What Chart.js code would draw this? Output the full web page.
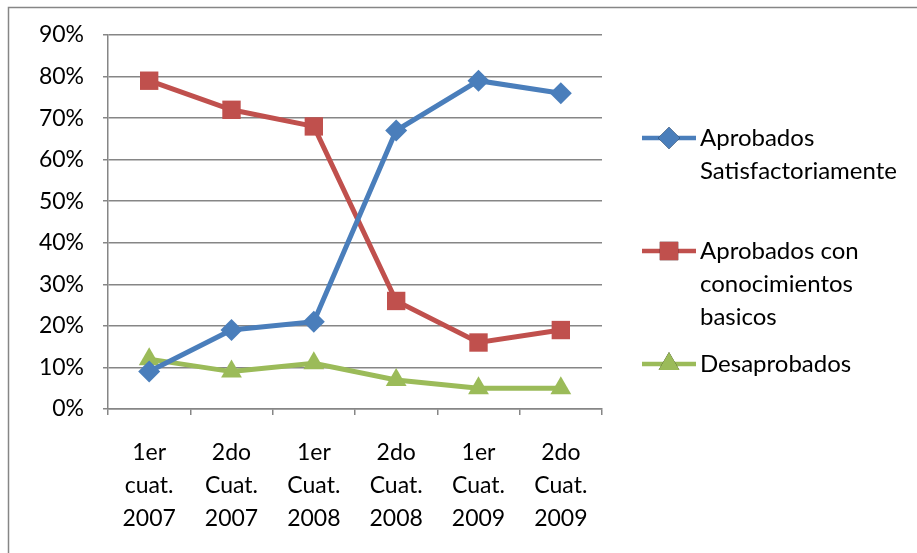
<!DOCTYPE html>
<html>
<head>
<meta charset="utf-8">
<script src="https://cdn.jsdelivr.net/npm/chart.js@4/dist/chart.umd.min.js"></script>
<style>
  html, body { margin: 0; padding: 0; background: #fff; }
  #wrap { width: 917px; height: 553px; }
</style>
</head>
<body>
<div id="wrap"><canvas id="chart1" width="917" height="553"></canvas></div>
<script>
const categories = [
    ["1er", "cuat.", "2007"],
    ["2do", "Cuat.", "2007"],
    ["1er", "Cuat.", "2008"],
    ["2do", "Cuat.", "2008"],
    ["1er", "Cuat.", "2009"],
    ["2do", "Cuat.", "2009"]
];
const seriesNames = [
    ["Aprobados", "Satisfactoriamente"],
    ["Aprobados con", "conocimientos", "basicos"],
    ["Desaprobados"]
];
const satisfactorios = [9, 19, 21, 67, 79, 76];
const basicos = [79, 72, 68, 26, 16, 19];
const desaprobados = [12, 9, 11, 7, 5, 5];
const yTicks = [0, 10, 20, 30, 40, 50, 60, 70, 80, 90];

const FONT = "Lato, 'Open Sans', sans-serif";

// legend at the right, with wrapped names like in the original
const sideLegend = {
    id: "sideLegend",
    afterDraw(chart) {
        const ctx = chart.ctx;
        const rows = [138, 251, 364];
        ctx.save();
        ctx.font = "24px " + FONT;
        ctx.textBaseline = "middle";
        ctx.fillStyle = "#000";
        chart.data.datasets.forEach((ds, i) => {
            const y = rows[i];
            ctx.strokeStyle = ds.borderColor;
            ctx.lineWidth = 4.5;
            ctx.beginPath();
            ctx.moveTo(642, y);
            ctx.lineTo(696, y);
            ctx.stroke();
            Chart.helpers.drawPoint(ctx, {
                pointStyle: ds.pointStyle,
                radius: ds.pointRadius,
                rotation: ds.pointRotation || 0,
                borderWidth: 0
            }, 669, y);
            ctx.fillStyle = ds.borderColor;
            ctx.fill();
            ctx.fillStyle = "#000";
            ds.label.forEach((line, k) => {
                ctx.fillText(line, 700, y + k * 33);
            });
        });
        // outer frame
        ctx.strokeStyle = "#868686";
        ctx.lineWidth = 1.5;
        ctx.strokeRect(8.5, 7.5, 1000, 1000);
        ctx.restore();
    }
};

const ctx = document.getElementById("chart1").getContext("2d");

new Chart(ctx, {
    type: "line",
    data: {
        labels: categories,
        datasets: [{
            label: seriesNames[0],
            data: satisfactorios,
            borderColor: "#4A7EBB",
            backgroundColor: "#4A7EBB",
            borderWidth: 5,
            pointStyle: "rectRot",
            pointRadius: 11,
            pointBorderWidth: 0,
            tension: 0
        }, {
            label: seriesNames[1],
            data: basicos,
            borderColor: "#C0504D",
            backgroundColor: "#C0504D",
            borderWidth: 5,
            pointStyle: "rect",
            pointRadius: 13,
            pointBorderWidth: 0,
            tension: 0
        }, {
            label: seriesNames[2],
            data: desaprobados,
            borderColor: "#9BBB59",
            backgroundColor: "#9BBB59",
            borderWidth: 5,
            pointStyle: "triangle",
            pointRadius: 12,
            pointBorderWidth: 0,
            tension: 0
        }]
    },
    options: {
        responsive: false,
        animation: false,
        layout: {
            padding: { left: 8, right: 315, top: 35, bottom: 0 }
        },
        scales: {
            x: {
                offset: true,
                grid: {
                    offset: true,
                    drawOnChartArea: false,
                    drawTicks: true,
                    tickLength: 6,
                    color: "#868686",
                    lineWidth: 1.5
                },
                border: { color: "#868686", width: 1.5 },
                ticks: {
                    color: "#000",
                    font: { family: FONT, size: 23, lineHeight: "33px" },
                    padding: 21,
                    maxRotation: 0,
                    autoSkip: false
                },
                afterFit(scale) { scale.height = 144; }
            },
            y: {
                min: 0,
                max: 90,
                afterBuildTicks(scale) {
                    scale.ticks = yTicks.map(v => ({ value: v }));
                },
                grid: {
                    color: "#868686",
                    lineWidth: 1.5,
                    tickLength: 5
                },
                border: { color: "#868686", width: 1.5 },
                ticks: {
                    color: "#000",
                    font: { family: FONT, size: 23 },
                    padding: 19,
                    callback: v => v + "%"
                },
                afterFit(scale) { scale.width = 100; }
            }
        },
        plugins: {
            legend: { display: false },
            tooltip: { enabled: false }
        }
    },
    plugins: [sideLegend]
});
</script>
</body>
</html>
